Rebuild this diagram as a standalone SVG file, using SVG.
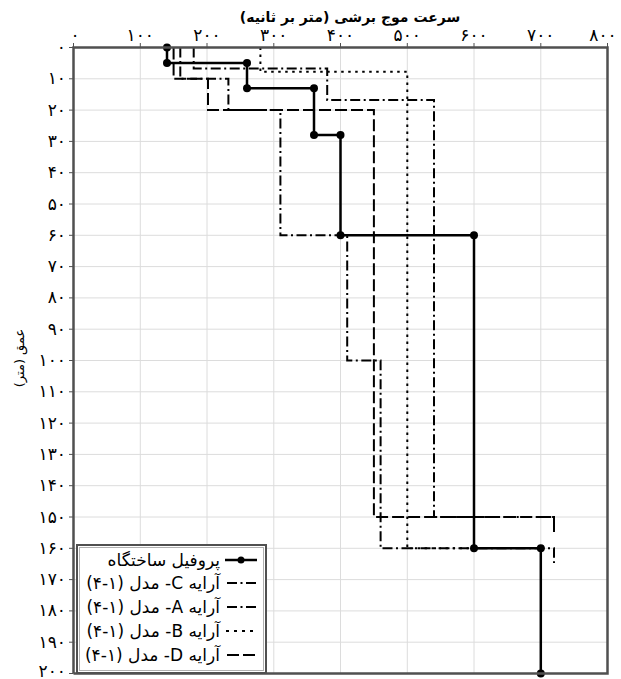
<svg xmlns="http://www.w3.org/2000/svg" width="621" height="679" viewBox="0 0 621 679">
<style>
text{font-family:"DejaVu Sans",sans-serif;fill:#000}
.tick{font-size:17px}
.grid{stroke:#dcdcdc;stroke-width:1;fill:none}
.frame{stroke:#505050;stroke-width:2.5;fill:none}
.tk{stroke:#505050;stroke-width:1}
.site{stroke:#000;stroke-width:2.5;fill:none}
.dot{fill:#000}
.dd{stroke:#000;stroke-width:2;fill:none;stroke-dasharray:10 3.5 2 3.5}
.ld{stroke:#000;stroke-width:2;fill:none;stroke-dasharray:12 4}
.sd{stroke:#000;stroke-width:2;fill:none;stroke-dasharray:2.5 4.5}
.leg{font-size:17px}
</style>
<rect width="621" height="679" fill="#fff"/>
<g id="grid">
<path class="grid" d="M140.3 47.5V673.5M207 47.5V673.5M273.8 47.5V673.5M340.5 47.5V673.5M407.3 47.5V673.5M474 47.5V673.5M540.8 47.5V673.5"/>
<path class="grid" d="M73.5 78.8H607.5M73.5 110.1H607.5M73.5 141.4H607.5M73.5 172.7H607.5M73.5 204H607.5M73.5 235.3H607.5M73.5 266.6H607.5M73.5 297.9H607.5M73.5 329.2H607.5M73.5 360.5H607.5M73.5 391.8H607.5M73.5 423.1H607.5M73.5 454.4H607.5M73.5 485.7H607.5M73.5 517H607.5M73.5 548.3H607.5M73.5 579.6H607.5M73.5 610.9H607.5M73.5 642.2H607.5"/>
</g>
<g id="axes">
<path class="tk" d="M73.5 43V47.5M140.3 43V47.5M207 43V47.5M273.8 43V47.5M340.5 43V47.5M407.3 43V47.5M474 43V47.5M540.8 43V47.5M607.5 43V47.5"/>
<path class="tk" d="M69 47.5H73.5M69 78.8H73.5M69 110.1H73.5M69 141.4H73.5M69 172.7H73.5M69 204H73.5M69 235.3H73.5M69 266.6H73.5M69 297.9H73.5M69 329.2H73.5M69 360.5H73.5M69 391.8H73.5M69 423.1H73.5M69 454.4H73.5M69 485.7H73.5M69 517H73.5M69 548.3H73.5M69 579.6H73.5M69 610.9H73.5M69 642.2H73.5M69 673.5H73.5"/>
<g class="tick" text-anchor="middle">
<text x="75" y="41">۰</text>
<text x="140.3" y="41">۱۰۰</text>
<text x="207" y="41">۲۰۰</text>
<text x="273.8" y="41">۳۰۰</text>
<text x="340.5" y="41">۴۰۰</text>
<text x="407.3" y="41">۵۰۰</text>
<text x="474" y="41">۶۰۰</text>
<text x="540.8" y="41">۷۰۰</text>
<text x="603" y="41">۸۰۰</text>
</g>
<g class="tick" text-anchor="end">
<text x="66" y="53">۰</text>
<text x="66" y="84.3">۱۰</text>
<text x="66" y="115.6">۲۰</text>
<text x="66" y="146.9">۳۰</text>
<text x="66" y="178.2">۴۰</text>
<text x="66" y="209.5">۵۰</text>
<text x="66" y="240.8">۶۰</text>
<text x="66" y="272.1">۷۰</text>
<text x="66" y="303.4">۸۰</text>
<text x="66" y="334.7">۹۰</text>
<text x="66" y="366">۱۰۰</text>
<text x="66" y="397.3">۱۱۰</text>
<text x="66" y="428.6">۱۲۰</text>
<text x="66" y="459.9">۱۳۰</text>
<text x="66" y="491.2">۱۴۰</text>
<text x="66" y="522.5">۱۵۰</text>
<text x="66" y="553.8">۱۶۰</text>
<text x="66" y="585.1">۱۷۰</text>
<text x="66" y="616.4">۱۸۰</text>
<text x="66" y="647.7">۱۹۰</text>
<text x="66" y="676.5">۲۰۰</text>
</g>
<text x="350" y="22" font-size="14" font-weight="bold" text-anchor="middle" direction="rtl">سرعت موج برشی (متر بر ثانیه)</text>
<text transform="translate(24 358) rotate(-90)" font-size="13" text-anchor="middle" direction="rtl">عمق (متر)</text>
</g>
<g id="connectors">
<path id="arrayD" class="ld" d="M173.6 47.5V78.8H208V110.1H373.9V517H554V532"/>
<path id="arrayC" class="dd" d="M180.3 47.5V78.8H228.4V110.1H280.4V235.3H347.2V360.5H380.6V548.3H554V563"/>
<path id="arrayA" class="dd" d="M193.7 47.5V68.5H327.2V100H434V517H554V532"/>
<path id="arrayB" class="sd" d="M260.4 47.5V71.7H407.3V548.3H474"/>
<path id="site" class="site" d="M167 47.5V63H247V88.2H314V135H340.5V235.3H474V548.3H540.8V673.5"/>
</g>
<g id="site-points" class="dot">
<circle cx="167" cy="47.5" r="4"/><circle cx="167" cy="63" r="4"/>
<circle cx="247" cy="63" r="4"/><circle cx="247" cy="88.2" r="4"/>
<circle cx="314" cy="88.2" r="4"/><circle cx="314" cy="135" r="4"/>
<circle cx="340.5" cy="135" r="4"/><circle cx="340.5" cy="235.3" r="4"/>
<circle cx="474" cy="235.3" r="4"/><circle cx="474" cy="548.3" r="4"/>
<circle cx="540.8" cy="548.3" r="4"/><circle cx="540.8" cy="673.5" r="4"/>
</g>
<path class="frame" d="M73.5 673.5V47.5H607.5V673.5H73.5"/>
<g id="legend">
<rect x="77" y="545" width="189" height="128" fill="#fff" stroke="#505050" stroke-width="2"/>
<rect x="79.5" y="547.5" width="184" height="123" fill="none" stroke="#b0b0b0" stroke-width="1"/>
<g id="leg-site">
<path class="site" d="M225 560H257"/><circle cx="241" cy="560" r="3.5" class="dot"/>
<text class="leg" x="220" y="566" text-anchor="start" direction="rtl">پروفیل ساختگاه</text>
</g>
<g id="leg-C">
<path class="dd" d="M225 583H257" stroke-dashoffset="-2"/>
<text class="leg" x="220" y="589" text-anchor="start" direction="rtl">آرایه C- مدل (۱-۴)</text>
</g>
<g id="leg-A">
<path class="dd" d="M225 607H257" stroke-dashoffset="-2"/>
<text class="leg" x="220" y="613" text-anchor="start" direction="rtl">آرایه A- مدل (۱-۴)</text>
</g>
<g id="leg-B">
<path class="sd" d="M226 631H257" style="stroke-dasharray:3 5"/>
<text class="leg" x="220" y="637" text-anchor="start" direction="rtl">آرایه B- مدل (۱-۴)</text>
</g>
<g id="leg-D">
<path class="ld" d="M225 655H257" stroke-dashoffset="-2"/>
<text class="leg" x="220" y="661" text-anchor="start" direction="rtl">آرایه D- مدل (۱-۴)</text>
</g>
</g>
</svg>
